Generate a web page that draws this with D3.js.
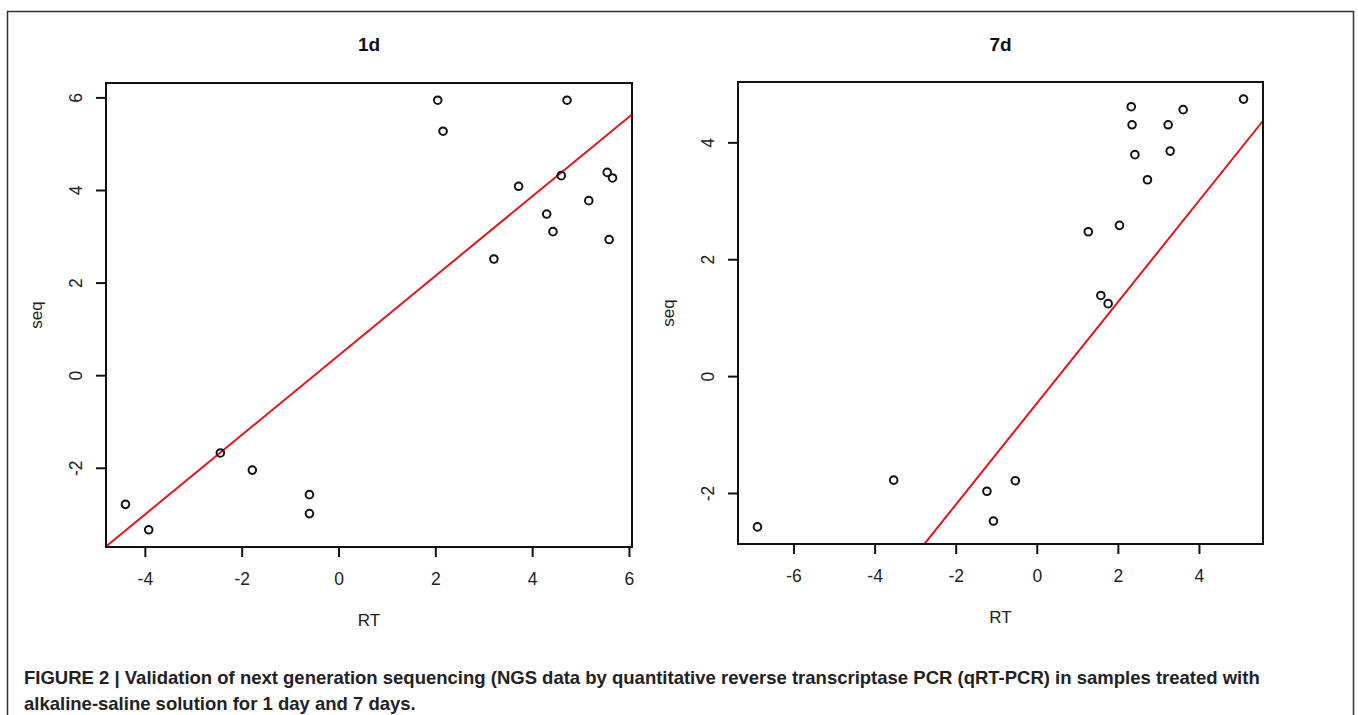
<!DOCTYPE html>
<html>
<head>
<meta charset="utf-8">
<script src="https://cdn.jsdelivr.net/npm/d3@7"></script>
<style>
  body { margin: 0; background: #fff; }
  svg { display: block; font-family: "Liberation Sans", Arial, Helvetica, sans-serif; }
</style>
</head>
<body>
<svg id="chart" width="1358" height="715"></svg>
<script>
// values
const rt1d = [2.05, 4.72, 2.16, 3.72, 4.60, 5.55, 5.66, 5.17, 4.30, 4.43, 5.59, 3.21,
  -4.40, -3.92, -2.44, -1.78, -0.60, -0.60];
const seq1d = [5.94, 5.94, 5.27, 4.08, 4.31, 4.38, 4.26, 3.77, 3.48, 3.10, 2.93, 2.51,
  -2.79, -3.34, -1.68, -2.05, -2.58, -2.99];

const rt7d = [5.10, 2.33, 3.61, 2.35, 3.24, 2.42, 3.29, 2.73, 2.04, 1.27, 1.58, 1.76,
  -6.89, -3.53, -1.23, -1.07, -0.53];
const seq7d = [4.74, 4.61, 4.56, 4.30, 4.30, 3.79, 3.85, 3.36, 2.58, 2.47, 1.38, 1.24,
  -2.58, -1.78, -1.97, -2.48, -1.79];

// fitted line (slope, intercept)
const fit1d = [0.859, 0.425];
const fit7d = [0.867, -0.468];

const xTicks1d = [-4, -2, 0, 2, 4, 6];
const yTicks1d = [-2, 0, 2, 4, 6];
const xTicks7d = [-6, -4, -2, 0, 2, 4];
const yTicks7d = [-2, 0, 2, 4];

const caption = [
  "FIGURE 2 | Validation of next generation sequencing (NGS data by quantitative reverse transcriptase PCR (qRT-PCR) in samples treated with",
  "alkaline-saline solution for 1 day and 7 days."
];

const svg = d3.select("#chart");

// R-style range: data extent plus 4% on each side
function rDomain(values) {
  const [lo, hi] = d3.extent(values);
  const pad = (hi - lo) * 0.04;
  return [lo - pad, hi + pad];
}

const fmt = d => d < 0 ? "-" + Math.abs(d) : d;

function drawPanel(opts) {
  const { id, title, xs, ys, fit, xTicks, yTicks, left, top, right, bottom } = opts;

  const x = d3.scaleLinear().domain(rDomain(xs)).range([left, right]);
  const y = d3.scaleLinear().domain(rDomain(ys)).range([bottom, top]);

  const g = svg.append("g");

  g.append("clipPath")
    .attr("id", "clip-" + id)
    .append("rect")
    .attr("x", left)
    .attr("y", top)
    .attr("width", right - left)
    .attr("height", bottom - top);

  // fit line
  const [x0, x1] = x.domain();
  g.append("line")
    .attr("clip-path", "url(#clip-" + id + ")")
    .attr("x1", x(x0))
    .attr("y1", y(fit[1] + fit[0] * x0))
    .attr("x2", x(x1))
    .attr("y2", y(fit[1] + fit[0] * x1))
    .attr("stroke", "#e8141b")
    .attr("stroke-width", 2);

  // points
  g.selectAll("circle")
    .data(xs.map((v, i) => [v, ys[i]]))
    .join("circle")
    .attr("cx", d => x(d[0]))
    .attr("cy", d => y(d[1]))
    .attr("r", 3.8)
    .attr("fill", "none")
    .attr("stroke", "#111")
    .attr("stroke-width", 2);

  // box
  g.append("rect")
    .attr("x", left)
    .attr("y", top)
    .attr("width", right - left)
    .attr("height", bottom - top)
    .attr("fill", "none")
    .attr("stroke", "#111")
    .attr("stroke-width", 2);

  // x axis
  const xa = g.append("g")
    .attr("transform", `translate(0,${bottom})`)
    .call(d3.axisBottom(x).tickValues(xTicks).tickSize(10).tickSizeOuter(0));
  xa.select(".domain").remove();
  xa.selectAll(".tick line").attr("stroke", "#111").attr("stroke-width", 2);
  xa.selectAll(".tick text")
    .attr("y", 38)
    .attr("dy", null)
    .attr("font-size", 17.5)
    .attr("fill", "#222")
    .text(fmt);

  // y axis
  const ya = g.append("g")
    .attr("transform", `translate(${left},0)`)
    .call(d3.axisLeft(y).tickValues(yTicks).tickSize(10).tickSizeOuter(0));
  ya.select(".domain").remove();
  ya.selectAll(".tick line").attr("stroke", "#111").attr("stroke-width", 2);
  ya.selectAll(".tick text")
    .attr("x", 0)
    .attr("dy", null)
    .attr("text-anchor", "middle")
    .attr("transform", "translate(-24.5,0) rotate(-90)")
    .attr("font-size", 17.5)
    .attr("fill", "#222")
    .text(fmt);

  const cx = (left + right) / 2;
  const cy = (top + bottom) / 2;

  g.append("text")
    .attr("x", cx)
    .attr("y", 50.5)
    .attr("text-anchor", "middle")
    .attr("font-size", 19)
    .attr("font-weight", "bold")
    .attr("fill", "#111")
    .text(title);

  g.append("text")
    .attr("x", cx)
    .attr("y", opts.xLabelY)
    .attr("text-anchor", "middle")
    .attr("font-size", 17)
    .attr("fill", "#222")
    .text("RT");

  g.append("text")
    .attr("transform", `translate(${left - 64},${cy}) rotate(-90)`)
    .attr("text-anchor", "middle")
    .attr("font-size", 17)
    .attr("fill", "#222")
    .text("seq");
}

// outer frame
svg.append("rect")
  .attr("x", 7.5)
  .attr("y", 11.5)
  .attr("width", 1346)
  .attr("height", 720)
  .attr("fill", "none")
  .attr("stroke", "#333")
  .attr("stroke-width", 1.5);

drawPanel({
  id: "d1", title: "1d", xs: rt1d, ys: seq1d, fit: fit1d,
  xTicks: xTicks1d, yTicks: yTicks1d,
  left: 106, top: 83, right: 632, bottom: 547, xLabelY: 626
});

drawPanel({
  id: "d7", title: "7d", xs: rt7d, ys: seq7d, fit: fit7d,
  xTicks: xTicks7d, yTicks: yTicks7d,
  left: 738, top: 82, right: 1263, bottom: 544, xLabelY: 623
});

svg.selectAll(".caption")
  .data(caption)
  .join("text")
  .attr("class", "caption")
  .attr("x", 24)
  .attr("y", (d, i) => 683.5 + i * 26)
  .attr("font-size", 18.5)
  .attr("font-weight", "bold")
  .attr("fill", "#222")
  .text(d => d);
</script>
</body>
</html>
